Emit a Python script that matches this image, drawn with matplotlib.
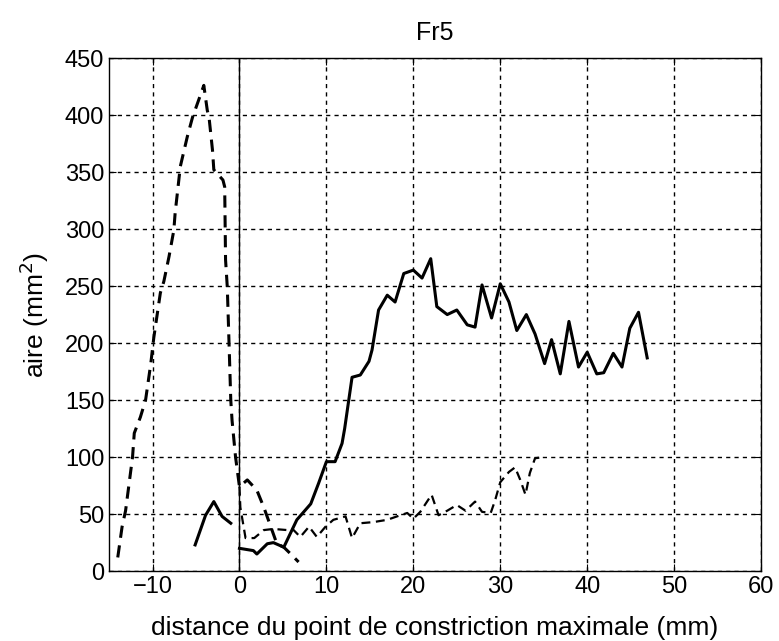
import numpy as np
import matplotlib
matplotlib.use("Agg")
import matplotlib.pyplot as plt

plt.rcParams['font.family'] = ['Liberation Sans', 'DejaVu Sans']

# thick dashed curve (upstream peak + small bump after 0)
dash_x = [-14.0, -13.5, -13.1, -12.3, -12.1, -11.4, -10.8, -10.2, -9.85, -9.1, -8.7, -8.1,
          -7.55, -7.4, -6.8, -6.0, -5.4, -4.7, -4.1, -3.7, -3.5, -3.1, -2.95, -2.6, -1.9,
          -1.7, -1.6, -1.4, -1.2, -1.0, -0.85, -0.45, 0.0, 0.9, 2.0, 2.8, 3.6, 4.3, 5.1,
          5.9, 6.8]
dash_y = [12, 39, 53, 100, 121, 135, 150, 182, 205, 244, 254, 276,
          299, 314, 355, 381, 398, 413, 426, 404, 398, 369, 352, 349, 343,
          337, 273, 249, 200, 150, 132, 100, 74, 80, 71, 56, 39, 24, 21,
          15, 8]

# thin dashed curve
thin_x = [0.0, 0.1, 0.7, 1.7, 2.8, 3.9, 5.5, 6.1, 7.0, 8.0, 8.9, 9.9, 10.8, 12.2, 12.95,
          13.9, 15.4, 17.0, 18.5, 19.3, 20.0, 20.8, 22.1, 22.9, 23.9, 25.0, 26.0, 27.1,
          27.9, 28.9, 29.4, 30.0, 31.0, 31.7, 32.3, 32.9, 33.4, 34.0, 35.0]
thin_y = [74, 56, 29, 29, 36, 37, 36, 37, 30, 39, 30, 39, 45, 48, 29,
          42, 43, 45, 49, 51, 46, 52, 67, 49, 53, 58, 53, 61,
          52, 51, 62, 78, 87, 91, 80, 67, 86, 99, 100]

# solid curve (short piece before 0, then main piece)
solid_x = [-5.1, -3.9, -2.95, -2.0, -1.0, np.nan,
           0.0, 1.6, 2.0, 3.2, 3.9, 5.1, 6.6, 8.2, 9.1, 10.0, 11.0, 11.8, 12.1,
           12.95, 13.9, 14.9, 15.25, 16.0, 17.0, 17.9, 18.9, 20.0, 21.0, 22.0, 22.7,
           23.9, 25.0, 26.2, 27.1, 27.9, 29.0, 30.0, 31.0, 31.9, 33.0, 34.0, 35.1,
           35.9, 36.9, 37.9, 39.0, 40.0, 41.1, 41.9, 43.0, 44.0, 44.9, 45.9, 46.9]
solid_y = [23, 49, 61, 48, 42, np.nan,
           20, 18, 15, 24, 25, 21, 45, 59, 77, 96, 96, 112, 125,
           170, 172, 184, 194, 229, 242, 236, 261, 264, 257, 274, 232,
           225, 229, 216, 214, 251, 222, 252, 236, 211, 225, 208, 182,
           203, 173, 219, 179, 192, 173, 174, 191, 179, 213, 227, 187]

fig = plt.figure(figsize=(7.79, 6.41), dpi=100)
ax = fig.add_axes([0.140, 0.109, 0.837, 0.8005])

ax.plot(dash_x, dash_y, color='black', lw=2.2, linestyle=(0, (4, 2.5)))
ax.plot(thin_x, thin_y, color='black', lw=1.6, linestyle=(0, (4, 2.5)))
ax.plot(solid_x, solid_y, color='black', lw=2.2)
ax.axvline(0, color='black', lw=1)

ax.set_xlim(-15, 60)
ax.set_ylim(0, 450)
ax.set_xticks(np.arange(-10, 61, 10))
ax.set_yticks(np.arange(0, 451, 50))
ax.set_xticklabels(['\u221210', '0', '10', '20', '30', '40', '50', '60'])
ax.grid(True, color='black', lw=1, linestyle=(0, (3, 3)))
ax.tick_params(direction='in', top=True, right=True, labelsize=17, length=5)
for s in ax.spines.values():
    s.set_linewidth(1)

ax.set_title('Fr5', fontsize=18, pad=13)
ax.set_xlabel('distance du point de constriction maximale (mm)', fontsize=19, labelpad=13)
ax.set_ylabel('aire (mm$^2$)', fontsize=19, labelpad=10)

fig.savefig('out.png', dpi=100)
